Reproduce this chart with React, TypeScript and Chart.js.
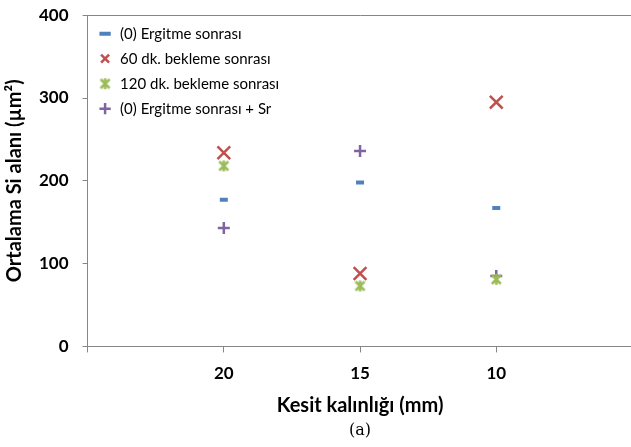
import React, { useEffect, useRef } from "react";
import { Chart, registerables } from "chart.js";

Chart.register(...registerables);

const categories = ["20", "15", "10"];
const ergitme = [177, 198, 167];
const bekleme60 = [234, 88, 295];
const bekleme120 = [218, 73, 81];
const ergitmeSr = [143, 236, 85];
const yTicks = [0, 100, 200, 300, 400];

const seriesNames = [
  "(0) Ergitme sonrası",
  "60 dk. bekleme sonrası",
  "120 dk. bekleme sonrası",
  "(0) Ergitme sonrası + Sr",
];

const BLUE = "#4F81BD";
const RED = "#C0504D";
const GREEN = "#9BBB59";
const PURPLE = "#8064A2";
const AXIS = "#868686";
const FONT = "Lato, 'Open Sans', sans-serif";

function makeStar(size: number, color: string, lw: number) {
  const c = document.createElement("canvas");
  c.width = size;
  c.height = size;
  const g = c.getContext("2d")!;
  g.strokeStyle = color;
  g.lineWidth = lw;
  g.lineCap = "butt";
  const p = 2;
  g.beginPath();
  g.moveTo(p, p);
  g.lineTo(size - p, size - p);
  g.moveTo(size - p, p);
  g.lineTo(p, size - p);
  g.moveTo(size / 2, p - 1);
  g.lineTo(size / 2, size - p + 1);
  g.stroke();
  return c;
}

export default function App() {
  const ref = useRef<HTMLCanvasElement | null>(null);
  useEffect(() => {
    if (!ref.current) return;
    const pts = (arr: number[]) => arr.map((v, i) => ({ x: i + 1, y: v }));
    const star = makeStar(13, GREEN, 2.5);
    const chart = new Chart(ref.current, {
      type: "scatter",
      data: {
        datasets: [
          {
            label: seriesNames[0],
            data: pts(ergitme),
            pointStyle: "line",
            pointRadius: 4,
            borderWidth: 4,
            borderColor: BLUE,
            backgroundColor: BLUE,
          },
          {
            label: seriesNames[1],
            data: pts(bekleme60),
            pointStyle: "crossRot",
            pointRadius: 9,
            borderWidth: 2.5,
            borderColor: RED,
            backgroundColor: RED,
          },
          {
            label: seriesNames[2],
            data: pts(bekleme120),
            pointStyle: star as any,
            pointRadius: 6,
            borderWidth: 2.5,
            borderColor: GREEN,
            backgroundColor: GREEN,
          },
          {
            label: seriesNames[3],
            data: pts(ergitmeSr),
            pointStyle: "cross",
            pointRadius: 6,
            borderWidth: 2.5,
            borderColor: PURPLE,
            backgroundColor: PURPLE,
          },
        ],
      },
      options: {
        animation: false,
        responsive: false,
        layout: { padding: { top: 0, right: 0, left: 0, bottom: 7 } },
        plugins: {
          tooltip: { enabled: false },
          legend: {
            position: "chartArea" as any,
            align: "start",
            title: {
              display: true,
              text: " ",
              font: { size: 1 },
              padding: { top: 24, bottom: 0 },
            },
            labels: {
              usePointStyle: true,
              boxHeight: 8,
              padding: 10,
              color: "#000",
              font: { family: FONT, size: 15 },
            },
          },
          title: {
            display: true,
            position: "bottom",
            fullSize: false,
            text: "(a)",
            color: "#000",
            font: { family: "'DejaVu Serif', 'Liberation Serif', serif", size: 16, weight: "normal" },
            padding: { top: 0, bottom: 0 },
          },
        },
        scales: {
          x: {
            type: "linear",
            min: 0,
            max: 4,
            afterBuildTicks: (axis: any) => {
              axis.ticks = [0, 1, 2, 3, 4].map((v) => ({ value: v }));
            },
            ticks: {
              autoSkip: false,
              maxRotation: 0,
              color: "#000",
              font: { family: FONT, size: 17, weight: "bold" },
              padding: 11,
              callback: (v: any) => {
                const i = Number(v) - 1;
                return i >= 0 && i < categories.length ? categories[i] : "";
              },
            },
            grid: {
              drawOnChartArea: false,
              tickLength: 6,
              tickColor: AXIS,
            },
            border: { color: AXIS, width: 1 },
            title: {
              display: true,
              text: "Kesit kalınlığı (mm)",
              color: "#000",
              font: { family: FONT, size: 20, weight: "bold", lineHeight: 1 },
              padding: { top: 1, bottom: 5 },
            },
          },
          y: {
            min: 0,
            max: 400,
            afterBuildTicks: (axis: any) => {
              axis.ticks = yTicks.map((v) => ({ value: v }));
            },
            ticks: {
              color: "#000",
              font: { family: FONT, size: 17, weight: "bold" },
              padding: 14,
            },
            grid: {
              drawOnChartArea: true,
              color: (ctx: any) => (ctx.tick && ctx.tick.value === 400 ? AXIS : "rgba(0,0,0,0)"),
              tickLength: 5,
              tickColor: AXIS,
            },
            border: { color: AXIS, width: 1 },
            title: {
              display: true,
              text: "Ortalama Si alanı (µm²)",
              color: "#000",
              font: { family: FONT, size: 20, weight: "bold", lineHeight: 1 },
              padding: { top: 5, bottom: 0 },
            },
          },
        },
      },
    });
    return () => chart.destroy();
  }, []);
  return (
    <div style={{ position: "fixed", left: 0, top: 0, width: 631, height: 447, background: "#fff", overflow: "hidden" }}>
      <canvas ref={ref} width={644} height={456} style={{ display: "block", marginTop: -9 }} />
    </div>
  );
}
